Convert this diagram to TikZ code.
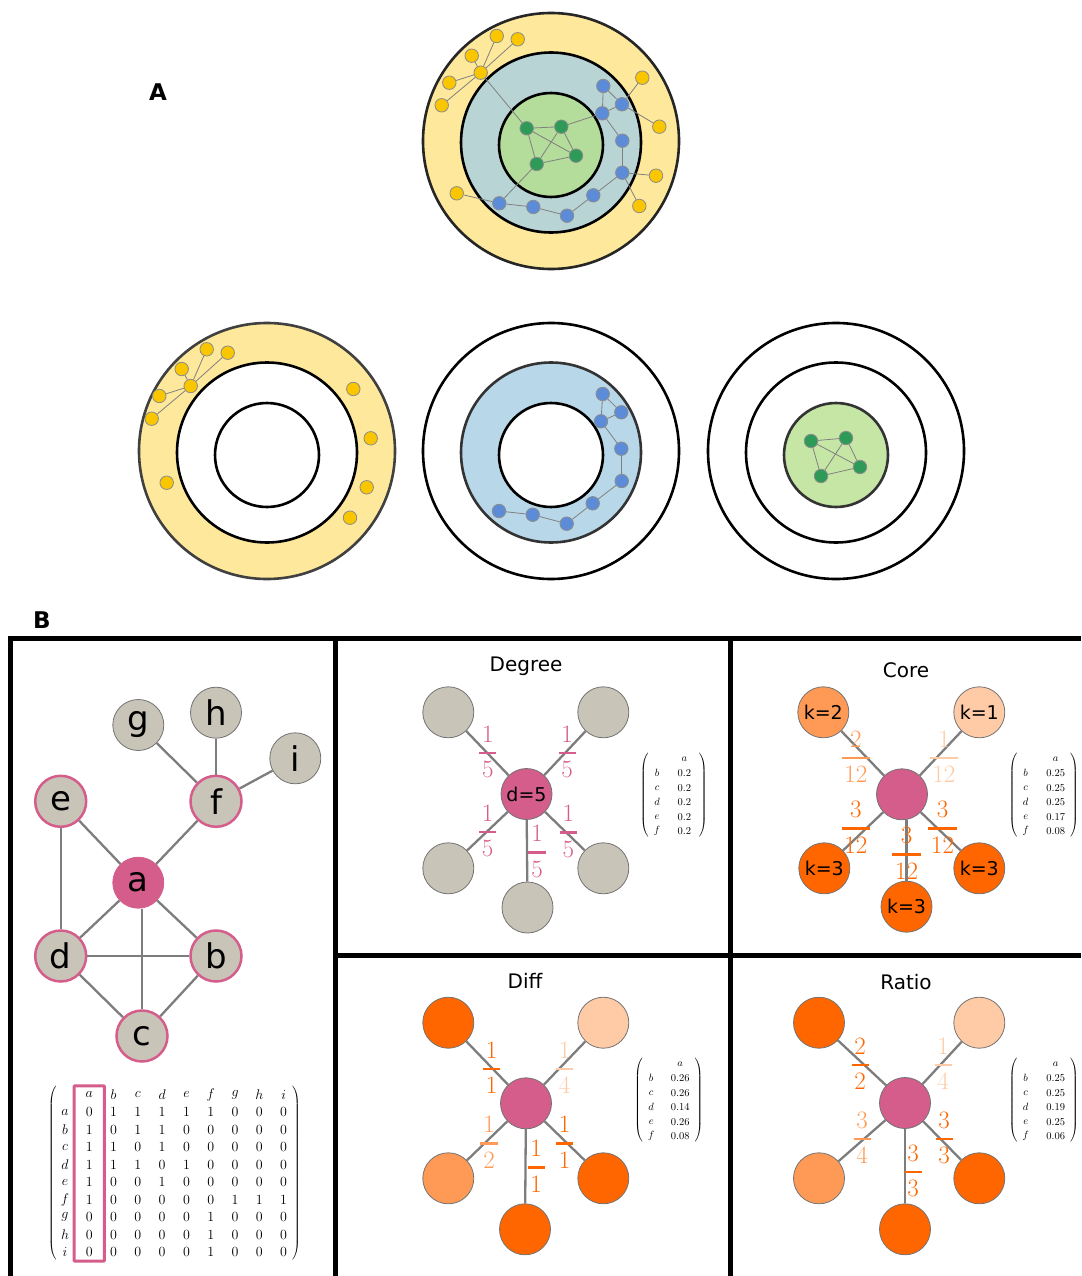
\RequirePackage{fix-cm}
\documentclass[tikz,border=0pt]{standalone}
\usepackage{amsmath}
\usepackage{fontspec}
\newfontfamily\labfont{DejaVu Sans}
\usetikzlibrary{matrix,fit}

\definecolor{vpink}{RGB}{212,93,139}
\definecolor{vgray}{RGB}{200,196,184}
\definecolor{kdark}{RGB}{255,102,0}
\definecolor{kmid}{RGB}{255,154,86}
\definecolor{klight}{RGB}{255,203,166}
\definecolor{ringyellow}{RGB}{254,232,155}
\definecolor{ringteal}{RGB}{185,212,213}
\definecolor{ringgreen}{RGB}{180,220,154}
\definecolor{ringblue}{RGB}{184,216,233}
\definecolor{ringlime}{RGB}{198,230,166}
\definecolor{dotyellow}{RGB}{250,198,0}
\definecolor{dotblue}{RGB}{92,140,216}
\definecolor{dotgreen}{RGB}{46,154,88}
\definecolor{edgegray}{RGB}{125,125,125}

\newcommand{\edgefrac}[2]{$\genfrac{}{}{2.4pt}{0}{\mkern2mu#1\mkern2mu}{\mkern2mu#2\mkern2mu}$}

\tikzset{
  shell/.style={draw=black!85, line width=2.6pt},
  adot/.style={circle, draw=black!45, line width=0.8pt, minimum size=13.5pt, inner sep=0pt},
  ydot/.style={adot, fill=dotyellow},
  bdot/.style={adot, fill=dotblue},
  gdot/.style={adot, fill=dotgreen},
  thinlink/.style={draw=black!50, line width=0.8pt},
  vnode/.style={circle, draw=black!55, line width=0.8pt, fill=vgray, minimum size=51pt, inner sep=0pt, font=\labfont\fontsize{19}{21}\selectfont},
  bignode/.style={vnode, font=\labfont\fontsize{34}{36}\selectfont},
  nbr/.style={draw=vpink, line width=2.5pt},
  staredge/.style={draw=edgegray, line width=2.3pt},
  fraclab/.style={inner sep=0pt, font=\fontsize{25}{30}\selectfont},
  paneltitle/.style={font=\labfont\fontsize{20}{22}\selectfont},
  panellabel/.style={font=\labfont\bfseries\fontsize{23}{25}\selectfont},
  panelrule/.style={line width=5pt},
  adjmat/.style={matrix of math nodes, left delimiter=(, right delimiter=), inner sep=0pt,
    column sep=10.3pt,
    nodes={inner sep=0pt, minimum width=14pt, minimum height=17.5pt, anchor=center, font=\fontsize{14}{16}\selectfont}},
  vecmat/.style={matrix of math nodes, left delimiter=(, right delimiter=), inner sep=0pt,
    nodes={inner sep=0pt, minimum height=14.5pt, anchor=center, font=\fontsize{10.5}{12}\selectfont},
    column 1/.style={nodes={minimum width=14pt}}, column 2/.style={nodes={minimum width=26pt}},
    column sep=#1}
}

\begin{document}
\begin{tikzpicture}[x=1pt,y=-1pt]
\useasboundingbox (0,0) rectangle (1081,1276);

% ---- A: full decomposition
\node[panellabel] (labA) at (158,92) {A};
\draw[shell, fill=ringyellow] (551,141) circle (128pt);
\draw[shell, draw=black, fill=ringteal] (551,142.5) circle (90pt);
\draw[shell, draw=black, fill=ringgreen] (551,145) circle (52pt);

\node[ydot] (ay1) at (496.7,36) {};
\node[ydot] (ay2) at (517.7,39.3) {};
\node[ydot] (ay3) at (471.7,55.7) {};
\node[ydot] (ay4) at (480.7,72.7) {};
\node[ydot] (ay5) at (449.3,82.7) {};
\node[ydot] (ay6) at (441.7,105.3) {};
\node[ydot] (ay7) at (642.3,77.7) {};
\node[ydot] (ay8) at (659.3,126.7) {};
\node[ydot] (ay9) at (656,175.7) {};
\node[ydot] (ay10) at (639.3,206) {};
\node[ydot] (ay11) at (456.7,193.3) {};
\node[bdot] (ab1) at (603.3,86) {};
\node[bdot] (ab2) at (622,104.3) {};
\node[bdot] (ab3) at (602.3,113.3) {};
\node[bdot] (ab4) at (622.3,140.7) {};
\node[bdot] (ab5) at (622.3,172.7) {};
\node[bdot] (ab6) at (593.3,195.3) {};
\node[bdot] (ab7) at (567,215.7) {};
\node[bdot] (ab8) at (533.3,207) {};
\node[bdot] (ab9) at (499.3,203.3) {};
\node[gdot] (ag1) at (526.7,128.3) {};
\node[gdot] (ag2) at (561.3,126.7) {};
\node[gdot] (ag3) at (576,155.7) {};
\node[gdot] (ag4) at (536.7,164) {};
\foreach \u/\v in {ay4/ay1,ay4/ay2,ay4/ay3,ay4/ay5,ay4/ay6,ay4/ag1,ay7/ab2,ab2/ay8,
  ab1/ab2,ab1/ab3,ab3/ab2,ab3/ab4,ab4/ab5,ab5/ay9,ab5/ay10,ab5/ab6,ab6/ab7,ab7/ab8,
  ab8/ab9,ab9/ay11,ab9/ag4,ag2/ab3,ag1/ag2,ag1/ag3,ag1/ag4,ag2/ag3,ag2/ag4,ag4/ag3}
  \draw[thinlink] (\u) -- (\v);

% ---- A: shell 1
\draw[shell, draw=black!75, fill=ringyellow] (267,451) circle (128pt);
\draw[shell, draw=black, fill=white] (267,452.5) circle (90pt);
\draw[shell, draw=black, fill=white] (267,455) circle (52pt);
\node[ydot] (ly1) at (206.7,349.3) {};
\node[ydot] (ly2) at (227.7,352.7) {};
\node[ydot] (ly3) at (181.7,369) {};
\node[ydot] (ly4) at (190.7,386) {};
\node[ydot] (ly5) at (159.3,396) {};
\node[ydot] (ly6) at (151.7,418.7) {};
\node[ydot] (ly7) at (353.3,389) {};
\node[ydot] (ly8) at (370.7,438.3) {};
\node[ydot] (ly9) at (366.7,487.3) {};
\node[ydot] (ly10) at (350,517.7) {};
\node[ydot] (ly11) at (166.7,482.7) {};
\foreach \v in {ly1,ly2,ly3,ly5,ly6}
  \draw[thinlink] (ly4) -- (\v);

% ---- A: shell 2
\draw[shell, draw=black] (551,451) circle (128pt);
\draw[shell, draw=black!80, fill=ringblue] (551,452.5) circle (90pt);
\draw[shell, draw=black, fill=white] (551,455) circle (52pt);
\node[bdot] (mb1) at (602.7,394) {};
\node[bdot] (mb2) at (621.3,412.3) {};
\node[bdot] (mb3) at (601,421.3) {};
\node[bdot] (mb4) at (621.3,448.7) {};
\node[bdot] (mb5) at (621.7,481) {};
\node[bdot] (mb6) at (592.7,503.3) {};
\node[bdot] (mb7) at (566.7,523.7) {};
\node[bdot] (mb8) at (532.7,514.7) {};
\node[bdot] (mb9) at (499,511) {};
\foreach \u/\v in {mb1/mb2,mb1/mb3,mb3/mb2,mb3/mb4,mb4/mb5,mb5/mb6,mb6/mb7,mb7/mb8,mb8/mb9}
  \draw[thinlink] (\u) -- (\v);

% ---- A: shell 3
\draw[shell, draw=black] (836,451) circle (128pt);
\draw[shell, draw=black] (836,452.5) circle (90pt);
\draw[shell, draw=black!80, fill=ringlime] (836,455) circle (52pt);
\node[gdot] (rg1) at (811,441) {};
\node[gdot] (rg2) at (846,438) {};
\node[gdot] (rg3) at (860,467) {};
\node[gdot] (rg4) at (821,476) {};
\foreach \u/\v in {rg1/rg2,rg1/rg3,rg1/rg4,rg2/rg3,rg2/rg4,rg4/rg3}
  \draw[thinlink] (\u) -- (\v);

% ---- B: frame
\node[panellabel] (labB) at (42,620) {B};
\draw[panelrule] (8,638.5) -- (1081,638.5);
\draw[panelrule] (10.5,636) -- (10.5,1276);
\draw[panelrule] (335.5,638) -- (335.5,1276);
\draw[panelrule] (730.5,638) -- (730.5,1276);
\draw[panelrule] (335.5,955) -- (1081,955);

% ---- B: example graph
\node[bignode] (g) at (138.3,725) {g};
\node[bignode] (h) at (216,712.7) {h};
\node[bignode] (i) at (295.3,758.3) {i};
\node[bignode, nbr] (e) at (60.7,801.3) {e};
\node[bignode, nbr] (f) at (216,801.3) {f};
\node[bignode, draw=vpink, fill=vpink] (a) at (138.3,882.7) {a};
\node[bignode, nbr] (d) at (60.7,956) {d};
\node[bignode, nbr] (b) at (216,956) {b};
\node[bignode, nbr] (c) at (142,1036) {c};
\foreach \u/\v in {e/a,e/d,f/a,g/f,h/f,i/f,a/d,a/b,d/b,d/c,b/c}
  \draw[staredge] (\u) -- (\v);
\draw[staredge] (c) -- (c |- a.south);

\matrix (adj) [adjmat] at (174.3,1173.5) {
  & a & b & c & d & e & f & g & h & i \\
a & 0 & 1 & 1 & 1 & 1 & 1 & 0 & 0 & 0 \\
b & 1 & 0 & 1 & 1 & 0 & 0 & 0 & 0 & 0 \\
c & 1 & 1 & 0 & 1 & 0 & 0 & 0 & 0 & 0 \\
d & 1 & 1 & 1 & 0 & 1 & 0 & 0 & 0 & 0 \\
e & 1 & 0 & 0 & 1 & 0 & 0 & 0 & 0 & 0 \\
f & 1 & 0 & 0 & 0 & 0 & 0 & 1 & 1 & 1 \\
g & 0 & 0 & 0 & 0 & 0 & 1 & 0 & 0 & 0 \\
h & 0 & 0 & 0 & 0 & 0 & 1 & 0 & 0 & 0 \\
i & 0 & 0 & 0 & 0 & 0 & 1 & 0 & 0 & 0 \\
};
\node[fit=(adj-1-2)(adj-10-2), draw=vpink, line width=3pt, inner xsep=8pt, inner ysep=0pt, rounded corners=1pt] (colA) {};

% ---- B: Degree
\node[paneltitle] (degtitle) at (526,666) {Degree};
\node[vnode, fill=vpink] (dc) at (526.5,794) {d=5};
\node[vnode] (d1) at (448.3,712.3) {};
\node[vnode] (d2) at (603.3,712.3) {};
\node[vnode] (d3) at (448.3,868.3) {};
\node[vnode] (d4) at (603.3,868.3) {};
\node[vnode] (d5) at (527.5,907.5) {};
\foreach \n in {1,...,5}
  \draw[staredge] (dc) -- (d\n);
\node[fraclab, text=vpink] (df1) at (487.8,752) {\edgefrac{1}{5}};
\node[fraclab, text=vpink] (df2) at (567.2,752) {\edgefrac{1}{5}};
\node[fraclab, text=vpink] (df3) at (487.7,831) {\edgefrac{1}{5}};
\node[fraclab, text=vpink] (df4) at (568.3,831.5) {\edgefrac{1}{5}};
\node[fraclab, text=vpink] (df5) at (537,851.5) {\edgefrac{1}{5}};
\matrix (degvec) [vecmat=7.3pt] at (673.7,795) {
  & a \\ b & 0.2 \\ c & 0.2 \\ d & 0.2 \\ e & 0.2 \\ f & 0.2 \\
};

% ---- B: Core
\node[paneltitle] (coretitle) at (906,670) {Core};
\node[vnode, fill=vpink] (kc) at (902,794.3) {};
\node[vnode, fill=kmid] (k1) at (823.3,712.3) {k=2};
\node[vnode, fill=klight] (k2) at (979.3,712.3) {k=1};
\node[vnode, fill=kdark] (k3) at (824.3,868.3) {k=3};
\node[vnode, fill=kdark] (k4) at (979.3,868.3) {k=3};
\node[vnode, fill=kdark] (k5) at (906.5,906.7) {k=3};
\foreach \n in {1,...,4}
  \draw[staredge] (kc) -- (k\n);
\draw[staredge] (k5) -- (k5 |- kc.south);
\node[fraclab, text=kmid] (kf1) at (855.8,757) {\edgefrac{2}{12}};
\node[fraclab, text=klight] (kf2) at (944,757) {\edgefrac{1}{12}};
\node[fraclab, text=kdark] (kf3) at (855.8,827.5) {\edgefrac{3}{12}};
\node[fraclab, text=kdark] (kf4) at (942.7,827.5) {\edgefrac{3}{12}};
\node[fraclab, text=kdark] (kf5) at (906.7,853.5) {\edgefrac{3}{12}};
\matrix (corevec) [vecmat=10pt] at (1043.7,795) {
  & a \\ b & 0.25 \\ c & 0.25 \\ d & 0.25 \\ e & 0.17 \\ f & 0.08 \\
};

% ---- B: Diff
\node[paneltitle] (difftitle) at (525,981) {Diff};
\node[vnode, fill=vpink] (fc) at (526,1103.3) {};
\node[vnode, fill=kdark] (f1) at (448.3,1022.7) {};
\node[vnode, fill=klight] (f2) at (603.3,1022.7) {};
\node[vnode, fill=kmid] (f3) at (448.3,1178.3) {};
\node[vnode, fill=kdark] (f4) at (603.3,1178.3) {};
\node[vnode, fill=kdark] (f5) at (525,1229.3) {};
\foreach \n in {1,...,5}
  \draw[staredge] (fc) -- (f\n);
\node[fraclab, text=kdark] (ff1) at (491.7,1068) {\edgefrac{1}{1}};
\node[fraclab, text=klight] (ff2) at (564.7,1068) {\edgefrac{1}{4}};
\node[fraclab, text=kmid] (ff3) at (489,1142.5) {\edgefrac{1}{2}};
\node[fraclab, text=kdark] (ff4) at (564.7,1142.5) {\edgefrac{1}{1}};
\node[fraclab, text=kdark] (ff5) at (536.2,1166.5) {\edgefrac{1}{1}};
\matrix (diffvec) [vecmat=9pt] at (668.7,1100) {
  & a \\ b & 0.26 \\ c & 0.26 \\ d & 0.14 \\ e & 0.26 \\ f & 0.08 \\
};

% ---- B: Ratio
\node[paneltitle] (ratiotitle) at (906,982) {Ratio};
\node[vnode, fill=vpink] (rc) at (905,1103) {};
\node[vnode, fill=kdark] (r1) at (819,1022.7) {};
\node[vnode, fill=klight] (r2) at (979.3,1022.7) {};
\node[vnode, fill=kmid] (r3) at (819,1178.3) {};
\node[vnode, fill=kdark] (r4) at (979.3,1178.3) {};
\node[vnode, fill=kdark] (r5) at (905,1229.3) {};
\foreach \n in {1,...,5}
  \draw[staredge] (rc) -- (r\n);
\node[fraclab, text=kdark] (rf1) at (860,1064) {\edgefrac{2}{2}};
\node[fraclab, text=klight] (rf2) at (943,1064) {\edgefrac{1}{4}};
\node[fraclab, text=kmid] (rf3) at (862,1138) {\edgefrac{3}{4}};
\node[fraclab, text=kdark] (rf4) at (944,1138) {\edgefrac{3}{3}};
\node[fraclab, text=kdark] (rf5) at (913,1171) {\edgefrac{3}{3}};
\matrix (ratiovec) [vecmat=10pt] at (1043.7,1100) {
  & a \\ b & 0.25 \\ c & 0.25 \\ d & 0.19 \\ e & 0.25 \\ f & 0.06 \\
};
\end{tikzpicture}
\end{document}
